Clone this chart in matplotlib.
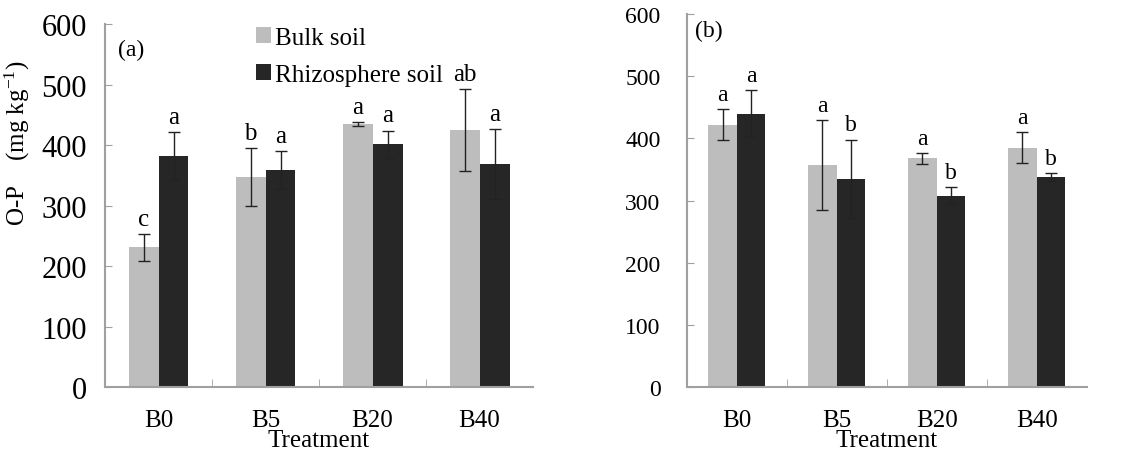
import numpy as np
import matplotlib
matplotlib.use('Agg')
import matplotlib.pyplot as plt

plt.rcParams['font.family'] = ['Liberation Serif', 'DejaVu Serif']
plt.rcParams['mathtext.fontset'] = 'stix'

# Data
treatments = ['B0', 'B5', 'B20', 'B40']

bulk_a = [231, 347, 435, 425]
bulk_a_err = [22, 48, 3, 68]
rhizo_a = [382, 359, 401, 368]
rhizo_a_err = [40, 31, 23, 58]
letters_bulk_a = ['c', 'b', 'a', 'ab']
letters_rhizo_a = ['a', 'a', 'a', 'a']

bulk_b = [422, 357, 368, 385]
bulk_b_err = [25, 72, 9, 25]
rhizo_b = [440, 335, 308, 338]
rhizo_b_err = [38, 63, 13, 6]
letters_bulk_b = ['a', 'a', 'a', 'a']
letters_rhizo_b = ['a', 'b', 'b', 'b']

bulk_color = '#bdbdbd'
rhizo_color = '#262626'
spine_color = '#a0a0a0'

fig = plt.figure(figsize=(11.39, 4.52), dpi=100)
ax1 = fig.add_axes([0.0922, 0.1416, 0.3758, 0.803])
ax2 = fig.add_axes([0.603, 0.1416, 0.351, 0.825])


def draw_panel(ax, bulk, bulk_err, rhizo, rhizo_err, lb, lr, width, ysize, ypad, lsize):
    x = np.arange(len(treatments))
    ax.bar(x - width / 2, bulk, width, color=bulk_color, label='Bulk soil', zorder=2)
    ax.bar(x + width / 2, rhizo, width, color=rhizo_color, label='Rhizosphere soil', zorder=2)
    ax.errorbar(x - width / 2, bulk, yerr=bulk_err, fmt='none', ecolor='#222222',
                elinewidth=1, capsize=4, capthick=1, zorder=3)
    ax.errorbar(x + width / 2, rhizo, yerr=rhizo_err, fmt='none', ecolor='#222222',
                elinewidth=1, capsize=4, capthick=1, zorder=3)
    for xi, v, e, t in zip(x - width / 2, bulk, bulk_err, lb):
        ax.annotate(t, (xi, v + e), xytext=(0, 3), textcoords='offset points',
                    ha='center', va='bottom', fontsize=lsize)
    for xi, v, e, t in zip(x + width / 2, rhizo, rhizo_err, lr):
        ax.annotate(t, (xi, v + e), xytext=(0, 3), textcoords='offset points',
                    ha='center', va='bottom', fontsize=lsize)

    ax.set_xlim(-0.5, len(treatments) - 0.5)
    ax.set_ylim(0, 600)
    ax.set_yticks(range(0, 601, 100))
    ax.set_xticks(x)
    ax.set_xticklabels(treatments)
    ax.set_xticks(np.arange(0.5, len(treatments) - 0.5, 1), minor=True)
    ax.tick_params(axis='x', which='major', length=0, pad=16, labelsize=18)
    ax.tick_params(axis='x', which='minor', direction='in', length=6, color=spine_color)
    ax.tick_params(axis='y', direction='in', length=5, color=spine_color, pad=ypad,
                   labelsize=ysize)
    for s in ['top', 'right']:
        ax.spines[s].set_visible(False)
    for s in ['left', 'bottom']:
        ax.spines[s].set_color(spine_color)
        ax.spines[s].set_linewidth(1.5)
    ax.set_xlabel('Treatment', fontsize=18, labelpad=-1.5)


draw_panel(ax1, bulk_a, bulk_a_err, rhizo_a, rhizo_a_err, letters_bulk_a, letters_rhizo_a,
           0.28, 22, 13, 18)
draw_panel(ax2, bulk_b, bulk_b_err, rhizo_b, rhizo_b_err, letters_bulk_b, letters_rhizo_b,
           0.285, 17, 19, 17)

ax1.set_ylabel('O-P    (mg kg$\\mathregular{^{-1}}$)', fontsize=18)
ax1.yaxis.set_label_coords(-0.17, 0.675)
ax1.text(0.03, 0.93, '(a)', transform=ax1.transAxes, fontsize=17, va='center')
ax2.text(0.02, 0.957, '(b)', transform=ax2.transAxes, fontsize=17, va='center')

ax1.legend(loc='upper left', bbox_to_anchor=(0.33, 1.02), frameon=False, fontsize=18,
           handlelength=0.6, handleheight=0.6, handletextpad=0.15, labelspacing=0.6,
           borderaxespad=0)

fig.savefig('out.png', dpi=100)
